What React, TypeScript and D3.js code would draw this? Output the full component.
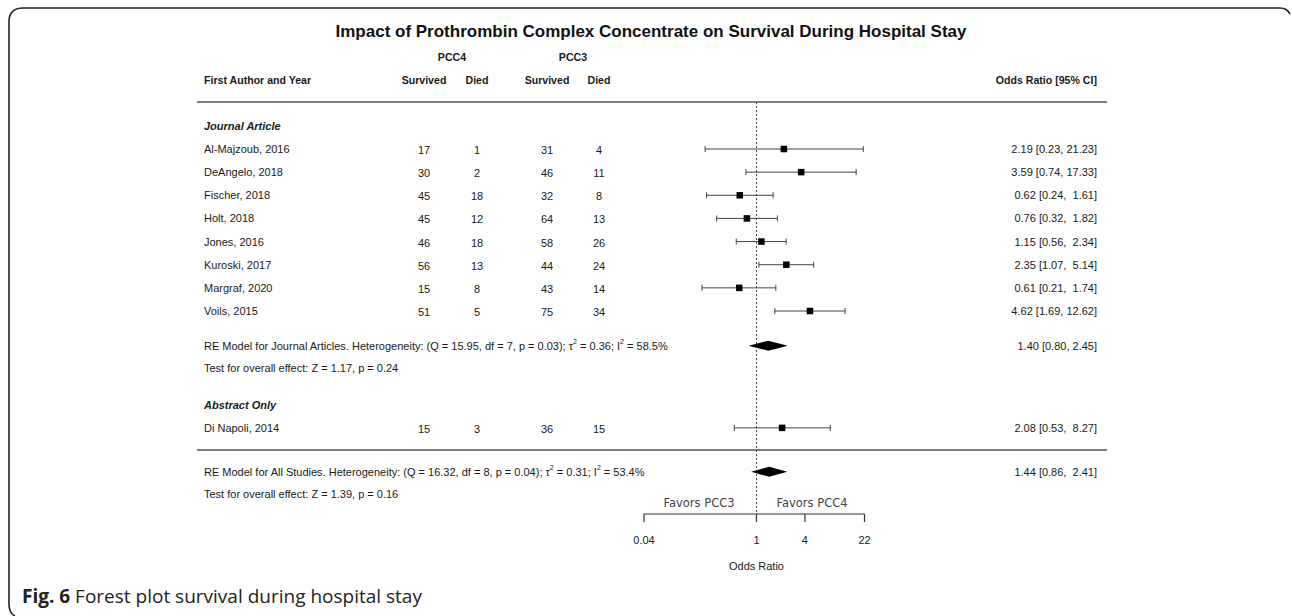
import React from "react";
import * as d3 from "d3";

const studies = ["Al-Majzoub, 2016", "DeAngelo, 2018", "Fischer, 2018", "Holt, 2018", "Jones, 2016", "Kuroski, 2017", "Margraf, 2020", "Voils, 2015"];
const pcc4Survived = [17, 30, 45, 45, 46, 56, 15, 51];
const pcc4Died = [1, 2, 18, 12, 18, 13, 8, 5];
const pcc3Survived = [31, 46, 32, 64, 58, 44, 43, 75];
const pcc3Died = [4, 11, 8, 13, 26, 24, 14, 34];
const oddsRatio = [2.19, 3.59, 0.62, 0.76, 1.15, 2.35, 0.61, 4.62];
const ciLow = [0.23, 0.74, 0.24, 0.32, 0.56, 1.07, 0.21, 1.69];
const ciHigh = [21.23, 17.33, 1.61, 1.82, 2.34, 5.14, 1.74, 12.62];

const abstractStudies = ["Di Napoli, 2014"];
const abstractPcc4Survived = [15];
const abstractPcc4Died = [3];
const abstractPcc3Survived = [36];
const abstractPcc3Died = [15];
const abstractOR = [2.08];
const abstractLow = [0.53];
const abstractHigh = [8.27];

const journalModel = { est: 1.4, lo: 0.8, hi: 2.45 };
const allModel = { est: 1.44, lo: 0.86, hi: 2.41 };

const axisTicks = [0.04, 1, 4, 22];
const axisTickLabels = ["0.04", "1", "4", "22"];

const FONT = "'Liberation Sans', Arial, sans-serif";

function fmtCI(est: number, lo: number, hi: number) {
  const h = hi.toFixed(2);
  const pad = h.length < 5 ? " ".repeat(5 - h.length) : "";
  return `${est.toFixed(2)} [${lo.toFixed(2)}, ${pad}${h}]`;
}

export default function App() {
  const W = 1292;
  const H = 616;
  const x = d3.scaleLog().domain([0.04, 22]).range([644, 864.5]);
  const y = d3.scaleLinear().domain([0, 7]).range([149, 311]);

  const col = { name: 204, s4: 424, d4: 477, s3: 547, d3: 599, ci: 1097 };
  const textColor = "#1a1a1a";
  const lineColor = "#444";
  const fs = 11;

  const rowsJ = studies.map((s, i) => ({
    name: s, a: pcc4Survived[i], b: pcc4Died[i], c: pcc3Survived[i], d: pcc3Died[i],
    est: oddsRatio[i], lo: ciLow[i], hi: ciHigh[i], row: i,
  }));
  const rowsA = abstractStudies.map((s, i) => ({
    name: s, a: abstractPcc4Survived[i], b: abstractPcc4Died[i], c: abstractPcc3Survived[i], d: abstractPcc3Died[i],
    est: abstractOR[i], lo: abstractLow[i], hi: abstractHigh[i], row: 12.05,
  }));
  const allRows = [...rowsJ, ...rowsA];

  const headerLineY = 102;
  const sepLineY = 450;
  const axisY = 514;
  const x1 = x(1);

  const diamond = (m: { est: number; lo: number; hi: number }, cy: number) => {
    const h = 5;
    return `M${x(m.lo)},${cy} L${x(m.est)},${cy - h} L${x(m.hi)},${cy} L${x(m.est)},${cy + h} Z`;
  };

  const reJ = y(8.5);
  const testJ = y(9.45);
  const abs = y(11.05);
  const reAll = y(13.95);
  const testAll = y(14.9);

  return (
    <svg width={W} height={H} style={{ position: "absolute", left: 0, top: 0, background: "#fff" }}>
      <rect x={0} y={0} width={W} height={H} fill="#fff" />
      <path d="M15,616 Q9,613 9,604 L9,22 Q9,8 23,8 L1280,8 Q1287,8 1290,14" fill="none" stroke="#222" strokeWidth={1.6} />

      <text x={651} y={37} textAnchor="middle" fontFamily={FONT} fontWeight="bold" fontSize={17} fill="#111">
        Impact of Prothrombin Complex Concentrate on Survival During Hospital Stay
      </text>

      <g fontFamily={FONT} fontSize={10.6} fill={textColor} fontWeight="bold">
        <text x={452} y={61} textAnchor="middle">PCC4</text>
        <text x={573} y={61} textAnchor="middle">PCC3</text>
        <text x={col.name} y={84}>First Author and Year</text>
        <text x={col.s4} y={84} textAnchor="middle">Survived</text>
        <text x={col.d4} y={84} textAnchor="middle">Died</text>
        <text x={col.s3} y={84} textAnchor="middle">Survived</text>
        <text x={col.d3} y={84} textAnchor="middle">Died</text>
        <text x={col.ci} y={84} textAnchor="end">Odds Ratio [95% CI]</text>
      </g>

      <line x1={197} x2={1107} y1={headerLineY} y2={headerLineY} stroke="#555" strokeWidth={1.5} />
      <line x1={197} x2={1107} y1={sepLineY} y2={sepLineY} stroke="#555" strokeWidth={1.5} />

      <line x1={x1} x2={x1} y1={headerLineY} y2={axisY} stroke="#444" strokeWidth={1} strokeDasharray="2,2" />

      <g fontFamily={FONT} fontSize={fs} fill={textColor} fontStyle="italic" fontWeight="bold">
        <text x={col.name} y={y(-1)} dominantBaseline="central">Journal Article</text>
        <text x={col.name} y={abs} dominantBaseline="central">Abstract Only</text>
      </g>

      {allRows.map((r, i) => {
        const cy = y(r.row);
        const sq = 6.5;
        return (
          <g key={i} fontFamily={FONT} fontSize={fs} fill={textColor}>
            <text x={col.name} y={cy} dominantBaseline="central">{r.name}</text>
            <text x={col.s4} y={cy + 1} dominantBaseline="central" textAnchor="middle">{r.a}</text>
            <text x={col.d4} y={cy + 1} dominantBaseline="central" textAnchor="middle">{r.b}</text>
            <text x={col.s3} y={cy + 1} dominantBaseline="central" textAnchor="middle">{r.c}</text>
            <text x={col.d3} y={cy + 1} dominantBaseline="central" textAnchor="middle">{r.d}</text>
            <text x={col.ci} y={cy} dominantBaseline="central" textAnchor="end" style={{ whiteSpace: "pre" }}>
              {fmtCI(r.est, r.lo, r.hi)}
            </text>
            <line x1={x(r.lo)} x2={x(r.hi)} y1={cy} y2={cy} stroke={lineColor} strokeWidth={1} />
            <line x1={x(r.lo)} x2={x(r.lo)} y1={cy - 3} y2={cy + 3} stroke={lineColor} strokeWidth={1} />
            <line x1={x(r.hi)} x2={x(r.hi)} y1={cy - 3} y2={cy + 3} stroke={lineColor} strokeWidth={1} />
            <rect x={x(r.est) - sq / 2} y={cy - sq / 2} width={sq} height={sq} fill="#000" />
          </g>
        );
      })}

      <g fontFamily={FONT} fontSize={fs} fill={textColor}>
        <text x={col.name} y={reJ} dominantBaseline="central">
          RE Model for Journal Articles. Heterogeneity: (Q = 15.95, df = 7, p = 0.03); τ
          <tspan fontSize={7} dy={-5}>2</tspan>
          <tspan dy={5}> = 0.36; I</tspan>
          <tspan fontSize={7} dy={-5}>2</tspan>
          <tspan dy={5}> = 58.5%</tspan>
        </text>
        <text x={col.name} y={testJ} dominantBaseline="central">Test for overall effect: Z = 1.17, p = 0.24</text>
        <text x={col.ci} y={reJ} dominantBaseline="central" textAnchor="end" style={{ whiteSpace: "pre" }}>
          {fmtCI(journalModel.est, journalModel.lo, journalModel.hi).replace("  ", " ")}
        </text>
        <text x={col.name} y={reAll} dominantBaseline="central">
          RE Model for All Studies. Heterogeneity: (Q = 16.32, df = 8, p = 0.04); τ
          <tspan fontSize={7} dy={-5}>2</tspan>
          <tspan dy={5}> = 0.31; I</tspan>
          <tspan fontSize={7} dy={-5}>2</tspan>
          <tspan dy={5}> = 53.4%</tspan>
        </text>
        <text x={col.name} y={testAll} dominantBaseline="central">Test for overall effect: Z = 1.39, p = 0.16</text>
        <text x={col.ci} y={reAll} dominantBaseline="central" textAnchor="end" style={{ whiteSpace: "pre" }}>
          {fmtCI(allModel.est, allModel.lo, allModel.hi)}
        </text>
      </g>

      <path d={diamond(journalModel, reJ)} fill="#000" />
      <path d={diamond(allModel, reAll)} fill="#000" />

      <line x1={x(0.04)} x2={x(22)} y1={axisY} y2={axisY} stroke="#333" strokeWidth={1.2} />
      {axisTicks.map((t, i) => (
        <g key={i}>
          <line x1={x(t)} x2={x(t)} y1={axisY} y2={axisY + 8} stroke="#333" strokeWidth={1.2} />
          <text x={x(t)} y={540} textAnchor="middle" dominantBaseline="central" fontFamily={FONT} fontSize={fs} fill={textColor}>
            {axisTickLabels[i]}
          </text>
        </g>
      ))}
      <text x={x1} y={566} textAnchor="middle" dominantBaseline="central" fontFamily={FONT} fontSize={fs} fill={textColor}>Odds Ratio</text>
      <text x={699} y={503} textAnchor="middle" dominantBaseline="central" fontFamily="'DejaVu Sans', sans-serif" fontSize={11.5} fill="#444">Favors PCC3</text>
      <text x={812} y={503} textAnchor="middle" dominantBaseline="central" fontFamily="'DejaVu Sans', sans-serif" fontSize={11.5} fill="#444">Favors PCC4</text>

      <text x={22} y={603} fontFamily="'Open Sans', sans-serif" fontSize={19} fill="#222">
        <tspan fontWeight="bold">Fig. 6</tspan> Forest plot survival during hospital stay
      </text>
    </svg>
  );
}
